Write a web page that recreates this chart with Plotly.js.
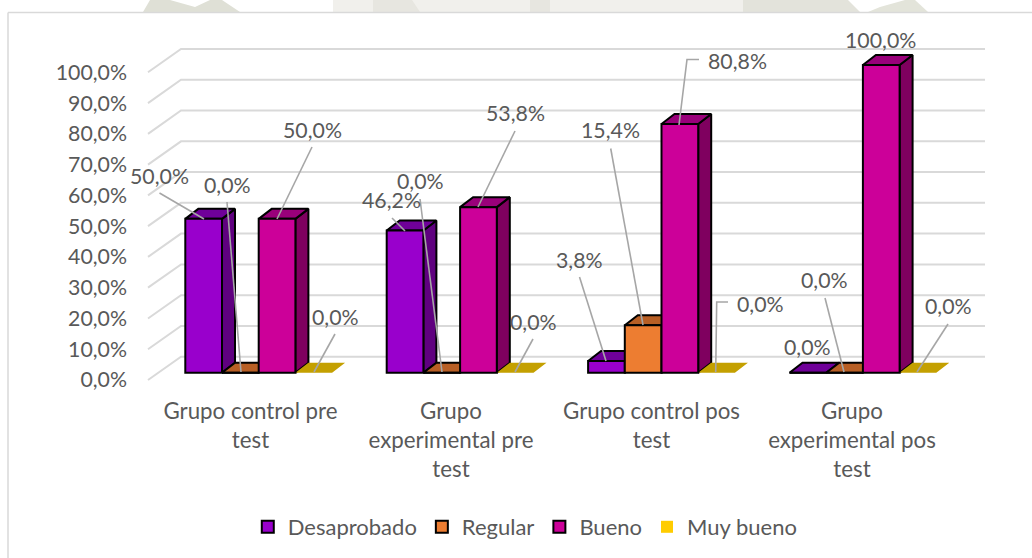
<!DOCTYPE html>
<html><head><meta charset="utf-8">
<script src="https://cdn.plot.ly/plotly-3.0.1.min.js"></script>
<style>html,body{margin:0;padding:0;background:#fff}#c{width:1032px;height:558px}</style>
</head><body><div id="c"></div>
<script>
// ---------- data ----------
const categories = [
  ['Grupo control pre','test'],
  ['Grupo','experimental pre','test'],
  ['Grupo control pos','test'],
  ['Grupo','experimental pos','test']
];
const desaprobado = [50.0, 46.2, 3.8, 0.0];
const regular     = [0.0, 0.0, 15.4, 0.0];
const bueno       = [50.0, 53.8, 80.8, 100.0];
const muyBueno    = [0.0, 0.0, 0.0, 0.0];
const yTicks = [0,10,20,30,40,50,60,70,80,90,100];
const seriesNames = ['Desaprobado','Regular','Bueno','Muy bueno'];

// ---------- styles & geometry ----------
const frontCol = ['#9900CC','#ED7D31','#CC0099','#FFCC00'];
const sideCol  = ['#5F007F','#7F3F10','#7F005F','#BF9900'];
const topCol   = ['#6F0099','#B85F25','#99007A','#C4A000'];
const lineW = [2,2,2,0];
const TXT='#595959', GRID='#D9D9D9', LEAD='#A6A6A6';
const W=1032,H=558, L=130,R=990,T=30,B=385;
const X0=258.7, XU=201.4, Y0=372.7, YU=3.077;        // px of x=0,y=0 and px per unit
const px=p=>(p-X0)/XU, py=p=>(Y0-p)/YU;
const BW=36.7/XU, DX=13/XU, DY=10/YU;                // bar width, bar depth
const WX=33/XU, WYb=16/YU, WYf=-7.3/YU;              // back wall / front edge of floor
const xs=[0,1,2,3], all=[desaprobado,regular,bueno,muyBueno];
const font='Lato, sans-serif';
const fmt=v=>v.toFixed(1).replace('.',',')+'%';

const traces=[];
// gridlines: front-left -> back-left -> back-right
const gx=[],gy=[];
yTicks.forEach(t=>{gx.push(px(148),px(181),px(985),null);gy.push(t+WYf,t+WYb,t+WYb,null);});
traces.push({type:'scatter',mode:'lines',x:gx,y:gy,line:{color:GRID,width:2},hoverinfo:'skip',showlegend:false});

// side and top faces (behind the fronts)
all.forEach((vals,s)=>{
  const off=(s-1.5)*BW;
  const sx=[],sy=[],tx=[],ty=[];
  vals.forEach((v,i)=>{
    const l=xs[i]+off-BW/2,r=l+BW;
    if(s<3){ sx.push(r,r,r+DX,r+DX,r,null); sy.push(0,v,v+DY,DY,0,null); }
    tx.push(l,r,r+DX,l+DX,l,null); ty.push(v,v,v+DY,v+DY,v,null);
  });
  const ln=lineW[s]?{color:'#000',width:lineW[s]}:{width:0,color:topCol[s]};
  if(s<3) traces.push({type:'scatter',mode:'lines',x:sx,y:sy,fill:'toself',fillcolor:sideCol[s],line:ln,hoverinfo:'skip',showlegend:false});
  traces.push({type:'scatter',mode:'lines',x:tx,y:ty,fill:'toself',fillcolor:topCol[s],line:ln,hoverinfo:'skip',showlegend:false});
});

// front faces on an overlaid subplot, so they hide the neighbour's side face
all.forEach((vals,s)=>{
  traces.push({type:'bar',name:seriesNames[s],x:xs,y:vals,xaxis:'x2',yaxis:'y2',
    marker:{color:frontCol[s],line:{color:'#000',width:lineW[s]}},hovertemplate:'%{y:.1f}%<extra></extra>'});
});

// data-label placement [centre x, centre y] in px, and leader line points
const labelPos=[
 [[159,176],[227,185],[312,130],[335,317]],
 [[391,200],[420,181],[515,113],[533,322]],
 [[579,260],[610,130],[737,61],[760,304]],
 [[807,347],[824,280],[880,40],[948,306]]];
const leaders=[
 [[159.5,193],[204,219]],[[227,202],[241,372]],[[312,147],[277,219]],[[335,334],[314,372]],
 [[392,218],[405,231]],[[420,199],[442,372]],[[515,131],[478,207]],[[533,339],[515,372]],
 [[579.5,277],[606,361]],[[610.7,148.5],[643,325]],[[699,59.5],[687,59.5],[679,125]],[[728,302],[716.7,302],[715.7,372]],
 [[825,298],[844,372]],[[948,324],[917,372]]];
const lx=[],ly=[];
leaders.forEach(a=>{a.forEach(p=>{lx.push(px(p[0]));ly.push(py(p[1]));});lx.push(null);ly.push(null);});
traces.push({type:'scatter',mode:'lines',x:lx,y:ly,xaxis:'x2',yaxis:'y2',line:{color:LEAD,width:1.6},hoverinfo:'skip',showlegend:false});

const annotations=[];
all.forEach((vals,s)=>vals.forEach((v,i)=>{
  annotations.push({xref:'x2',yref:'y2',x:px(labelPos[i][s][0]),y:py(labelPos[i][s][1]),text:fmt(v),
    showarrow:false,xanchor:'center',yanchor:'middle',font:{family:font,size:21.3,color:TXT}});
}));

// page-background watermark peeking out above the chart card
const fx=p=>(p-L)/(R-L), fy=p=>(B-p)/(B-T);
const poly=(pts,col)=>({type:'path',xref:'paper',yref:'paper',layer:'below',fillcolor:col,line:{width:0},
  path:'M'+pts.map(p=>fx(p[0])+','+fy(p[1])).join('L')+'Z'});
const mark=[
 poly([[143,12],[150,0],[170,0],[195,7],[210,0],[222,0],[240,12]],'#DFE0D6'),
 poly([[333,0],[747,0],[747,12],[333,12]],'#F1F0EC'),
 poly([[373,0],[412,0],[420,12],[373,12]],'#E7E6E0'),
 poly([[530,0],[550,0],[550,12],[530,12]],'#E7E6E0'),
 poly([[743,0],[848,0],[860,12],[743,12]],'#E3E3DB'),
 poly([[868,12],[880,7],[905,0],[915,0],[928,12]],'#E3E4DA')
];

const LX=[250.5,451,651.5,852].map(px);
const ticktext=categories.map(c=>c.map(l=>'<span style="font-size:22.3px">'+l+'</span>').join('<br>'));
const xr=[px(L),px(R)], yr=[py(B),py(T)];
const layout={
  width:W,height:H,margin:{l:L,r:W-R,t:T,b:H-B,pad:0},
  paper_bgcolor:'#fff',plot_bgcolor:'rgba(0,0,0,0)',
  font:{family:font,color:TXT,size:21},
  barmode:'group',bargap:1-4*BW,bargroupgap:0,
  xaxis:{range:xr,tickmode:'array',tickvals:LX,ticktext:ticktext,showgrid:false,zeroline:false,showline:false,ticks:'',
    tickangle:0,tickfont:{family:font,size:22.5,color:TXT},ticklabelstandoff:10,automargin:false},
  yaxis:{range:yr,tickmode:'array',tickvals:yTicks.map(t=>t+WYf),ticktext:yTicks.map(t=>t.toFixed(1).replace('.',',')+'%'),
    showgrid:false,zeroline:false,showline:false,ticks:'',ticklabelstandoff:2,tickfont:{family:font,size:21.3,color:TXT},automargin:false},
  xaxis2:{overlaying:'x',matches:'x',range:xr,visible:false},
  yaxis2:{overlaying:'y',matches:'y',range:yr,visible:false},
  legend:{orientation:'h',x:0.509,xanchor:'center',xref:'container',y:(H-527)/H,yanchor:'middle',yref:'container',
    font:{family:font,size:22,color:TXT},bgcolor:'rgba(0,0,0,0)',traceorder:'normal'},
  annotations:annotations,
  shapes:mark.concat([
   {type:'line',xref:'paper',yref:'paper',layer:'below',x0:fx(8),x1:fx(1032),y0:fy(12.5),y1:fy(12.5),line:{color:GRID,width:1.5}},
   {type:'line',xref:'paper',yref:'paper',layer:'below',x0:fx(8),x1:fx(8),y0:fy(12.5),y1:fy(558),line:{color:GRID,width:1.5}}
  ])
};
Plotly.newPlot('c',traces,layout,{displayModeBar:false,staticPlot:true});
</script></body></html>
